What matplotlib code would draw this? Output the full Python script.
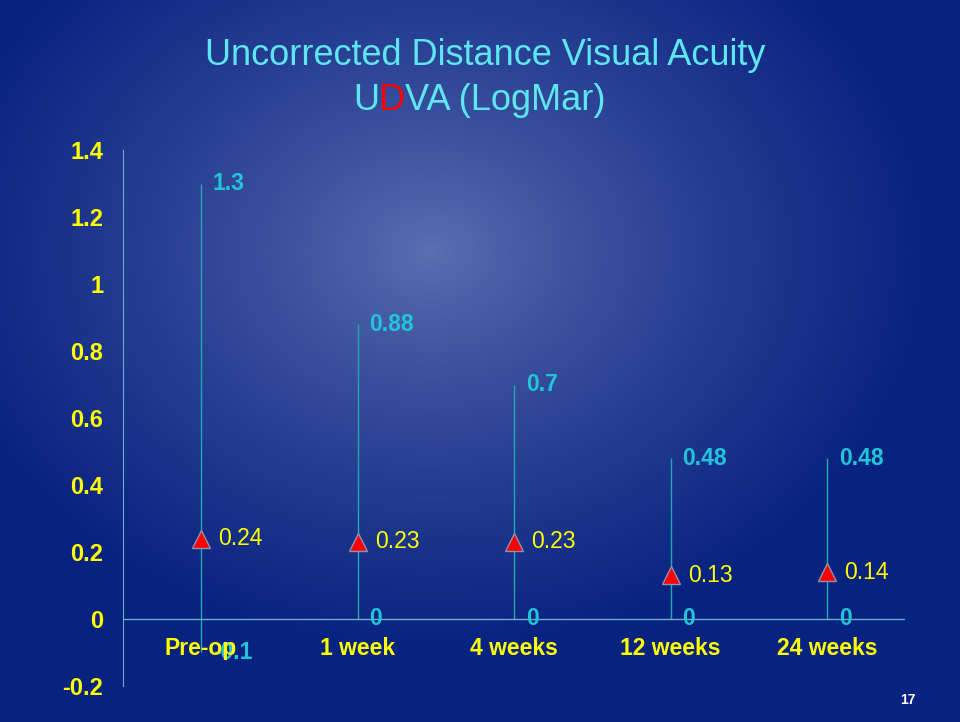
import numpy as np
import matplotlib.pyplot as plt

plt.rcParams['font.family'] = ['Liberation Sans', 'DejaVu Sans']

categories = ['Pre-op', '1 week', '4 weeks', '12 weeks', '24 weeks']
max_vals = [1.3, 0.88, 0.7, 0.48, 0.48]
min_vals = [-0.1, 0, 0, 0, 0]
mean_vals = [0.24, 0.23, 0.23, 0.13, 0.14]
min_labels = ['-0.1', '0', '0', '0', '0']
yticks = [-0.2, 0, 0.2, 0.4, 0.6, 0.8, 1, 1.2, 1.4]
ytick_labels = ['-0.2', '0', '0.2', '0.4', '0.6', '0.8', '1', '1.2', '1.4']

fig = plt.figure(figsize=(9.6, 7.22), dpi=100)

# background: radial blue gradient like the slide
bg = fig.add_axes([0, 0, 1, 1])
h, w = 361, 480
yy, xx = np.mgrid[0:h, 0:w]
d = np.sqrt(((xx - 215) / 250.0) ** 2 + ((yy - 125) / 200.0) ** 2)
t = np.clip(d, 0, 1) ** 0.8
inner = np.array([92, 112, 178]) / 255.0
outer = np.array([8, 34, 128]) / 255.0
img = inner[None, None, :] * (1 - t[..., None]) + outer[None, None, :] * t[..., None]
bg.imshow(img, aspect='auto', extent=[0, 1, 0, 1], origin='upper')
bg.axis('off')

ax = fig.add_axes([0.128, 0.050, 0.815, 0.742])
ax.patch.set_alpha(0)
x = np.arange(len(categories))

ax.vlines(x, min_vals, max_vals, color='#22a8b0', linewidth=1)
ax.axhline(0, color='#6aaccc', linewidth=1)
ax.plot(x, mean_vals, linestyle='none', marker='^', markersize=13,
        markerfacecolor='#ff0000', markeredgecolor='#9090b0', markeredgewidth=1)

for i in range(len(categories)):
    ax.text(x[i] + 0.075, max_vals[i], str(max_vals[i]), color='#22c4d8',
            fontsize=16.5, fontweight='bold', ha='left', va='center', zorder=3)
    ax.text(x[i] + 0.075, min_vals[i], min_labels[i], color='#22c4d8',
            fontsize=16.5, fontweight='bold', ha='left', va='center', zorder=3)
    ax.text(x[i] + 0.11, mean_vals[i], f'{mean_vals[i]:.2f}', color='#ffff00',
            fontsize=16.5, ha='left', va='center', zorder=3)
    ax.text(x[i], -0.088, categories[i], color='#ffff00', fontsize=16.5,
            fontweight='bold', ha='center', va='center', zorder=4)

ax.set_xlim(-0.5, 4.5)
ax.set_ylim(-0.2, 1.4)
ax.set_yticks(yticks)
ax.set_yticklabels(ytick_labels, color='#ffff00', fontsize=17, fontweight='bold')
ax.set_xticks([])
ax.tick_params(axis='y', length=0, pad=14)
for s in ['top', 'right', 'bottom']:
    ax.spines[s].set_visible(False)
ax.spines['left'].set_color('#6aaccc')

fig.text(0.505, 0.923, 'Uncorrected Distance Visual Acuity', color='#5ee6f0',
         fontsize=26, ha='center', va='center')
t1 = fig.text(0.368, 0.861, 'U', color='#5ee6f0', fontsize=26, ha='left', va='center')
t2 = ax.annotate('D', xy=(1, 0), xycoords=t1, color='#ff0000', fontsize=26,
                 ha='left', va='bottom')
t3 = ax.annotate('VA (LogMar)', xy=(1, 0), xycoords=t2, color='#5ee6f0',
                 fontsize=26, ha='left', va='bottom')

fig.text(0.946, 0.030, '17', color='white', fontsize=10, fontweight='bold',
         ha='center', va='center')

fig.savefig('out.png', dpi=100)
